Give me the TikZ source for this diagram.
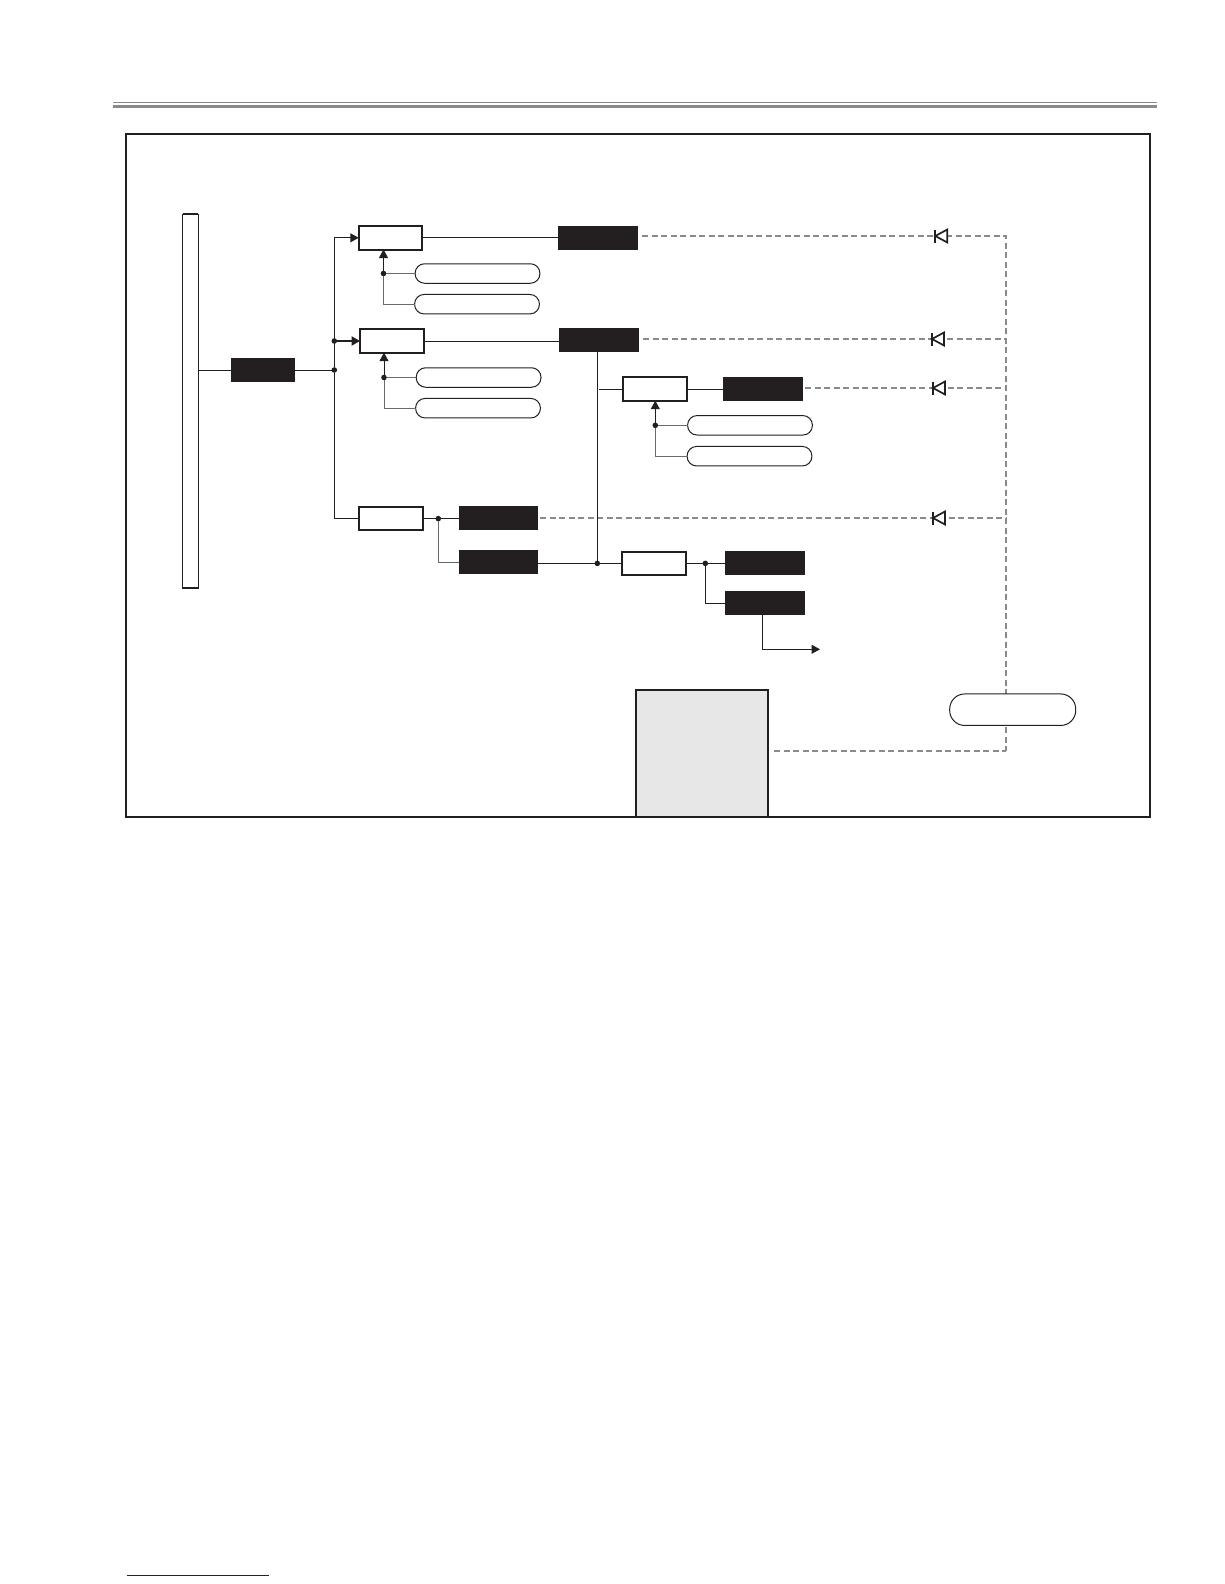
\documentclass[tikz,border=0pt]{standalone}
\usetikzlibrary{arrows.meta}
\definecolor{ink}{HTML}{231F20}
\definecolor{dashgray}{HTML}{8A8A8A}
\definecolor{stubgray}{HTML}{6A6A6A}
\definecolor{panel}{HTML}{E7E7E7}
\definecolor{navy}{HTML}{1414A0}
\tikzset{
  every node/.style={outer sep=0pt,inner sep=0pt},
  whitebox/.style={draw=ink,line width=2pt,fill=white,minimum width=63.5pt,minimum height=23.4pt},
  blackbox/.style={fill=ink,minimum width=80pt,minimum height=24pt},
  pill/.style={draw=ink,line width=1pt,fill=white,rounded corners=9.5pt,minimum width=124.8pt,minimum height=19.5pt},
  dot/.style={circle,fill=ink,minimum size=5.6pt},
  wire/.style={draw=ink,line width=1pt},
  stub/.style={draw=stubgray,line width=1pt},
  arrowwire/.style={wire,-{Triangle[length=8.5pt,width=9pt]}},
  dashline/.style={draw=dashgray,line width=1.8pt,dash pattern=on 6pt off 3.5pt},
  diodeline/.style={draw=ink,line width=1.7pt,fill=white,line join=miter}
}
\newcommand{\diodeat}[3]{%
  \coordinate (#1) at (#2,#3);
  \draw[diodeline] ([shift={(13,-6.5)}]#1) -- ([shift={(13,6.5)}]#1) -- ([shift={(1,0)}]#1) -- cycle;
  \draw[diodeline] ([shift={(1,-6.5)}]#1) -- ([shift={(1,6.5)}]#1);
}
\begin{document}
\begin{tikzpicture}[x=1pt,y=-1pt]
\useasboundingbox (0,0) rectangle (1224,1584);
% header rule and bottom line
\coordinate (ruleL) at (113,102.7); \coordinate (ruleR) at (1157,102.7);
\coordinate (ruleL2) at (113,106.2); \coordinate (ruleR2) at (1157,106.2);
\draw[dashgray,line width=1pt] (ruleL) -- (ruleR);
\draw[dashgray,line width=3pt] (ruleL2) -- (ruleR2);
\coordinate (footL) at (127,1575.3); \coordinate (footR) at (269,1575.3);
\draw[navy,line width=1.1pt] (footL) -- (footR);

% dashed bus
\coordinate (t1) at (1006,236);
\coordinate (t2) at (1006,339);
\coordinate (t3) at (1006,388);
\coordinate (t4) at (1006,518);
\coordinate (t5) at (1006,751);
\coordinate (s1) at (642,236);
\coordinate (s2) at (643,339);
\coordinate (s3) at (805,388);
\coordinate (s4) at (540,518);
\coordinate (s5) at (774,751);
\draw[dashline] (s1) -- (t1) -- (t5);
\draw[dashline] (s5) -- (t5);
\draw[dashline] (s2) -- (t2);
\draw[dashline] (s3) -- (t3);
\draw[dashline] (s4) -- (t4);

% main nodes
\node[draw=ink,line width=1.1pt,fill=white,minimum width=15.4pt,minimum height=374pt] (bar) at (190.5,401.3) {};
\coordinate (barTL) at (bar.north west); \coordinate (barTR) at (bar.north east);
\coordinate (barBL) at (bar.south west); \coordinate (barBR) at (bar.south east);
\draw[ink,line width=2pt] (barTL) -- (barTR);
\draw[ink,line width=2pt] (barBL) -- (barBR);
\node[blackbox,minimum width=64pt] (K0) at (263,370) {};
\node[whitebox] (A) at (390.5,237.8) {};
\node[whitebox] (B) at (391.8,341) {};
\node[whitebox] (C) at (655,389) {};
\node[whitebox] (D) at (391,518.6) {};
\node[whitebox] (E) at (654.2,563.4) {};
\node[blackbox] (K1) at (598,238) {};
\node[blackbox] (K2) at (599,340) {};
\node[blackbox] (K3) at (763,389) {};
\node[blackbox,minimum width=79pt] (K4) at (498.5,518) {};
\node[blackbox,minimum width=79pt] (K5) at (498.5,562) {};
\node[blackbox] (K6) at (765,563) {};
\node[blackbox] (K7) at (765,603) {};
\node[pill] (P1) at (477.5,273.5) {};
\node[pill] (P2) at (477,304.2) {};
\node[pill] (P3) at (478.6,377.5) {};
\node[pill] (P4) at (478,408.2) {};
\node[pill] (P5) at (750,425.3) {};
\node[pill] (P6) at (749.5,456.2) {};
\node[draw=ink,line width=1pt,fill=white,rounded corners=15pt,minimum width=126pt,minimum height=31.5pt] (P7) at (1012.7,709.7) {};
\node[draw=ink,line width=2pt,fill=panel,minimum width=131.5pt,minimum height=126.7pt] (G) at (702,753.3) {};

% junction dots
\node[dot] (J1) at (334.3,370) {};
\node[dot] (J2) at (334.3,341) {};
\node[dot] (dA) at (383.5,273.5) {};
\node[dot] (dB) at (384,377.5) {};
\node[dot] (dC) at (655.3,425.3) {};
\node[dot] (dD) at (438.3,518.6) {};
\node[dot] (dE) at (597.3,563.4) {};
\node[dot] (dF) at (705.3,563.4) {};
\coordinate (stubC) at (599,389);
\coordinate (outR) at (820,649.3);
\coordinate (outL) at (762.3,649.3);

% connectors
\draw[wire] (bar.east |- K0.west) -- (K0.west);
\draw[wire] (K0.east) -- (J1);
\draw[arrowwire] (J1) |- (A.west);
\draw[wire] (J1) |- (D.west);
\draw[draw=ink,line width=2pt,-{Triangle[length=8.5pt,width=9pt]}] (J2) -- (B.west);
\draw[wire] (A.east) -- (A.east -| K1.west);
\draw[wire] (B.east) -- (B.east -| K2.west);
\draw[wire] (C.east) -- (K3.west);
\draw[wire] (stubC) -- (C.west);
\draw[wire] (D.east) -- (D.east -| K4.west);
\draw[stub] (dD) |- (K5.west);
\draw[wire] (dE -| K5.east) -- (dE);
\draw[wire] (dE) -- (E.west);
\draw[wire] (dE |- K2.south) -- (dE);
\draw[wire] (E.east) -- (E.east -| K6.west);
\draw[wire] (dF) |- (K7.west);
\draw[wire] (outL |- K7.south) -- (outL);
\draw[arrowwire] (outL) -- (outR);

\draw[stub] (P1.west) -- (dA);
\draw[stub] (P2.west) -| (dA);
\draw[arrowwire] (dA) -- (dA |- A.south);
\draw[stub] (P3.west) -- (dB);
\draw[stub] (P4.west) -| (dB);
\draw[arrowwire] (dB) -- (dB |- B.south);
\draw[stub] (P5.west) -- (dC);
\draw[stub] (P6.west) -| (dC);
\draw[arrowwire] (dC) -- (dC |- C.south);

% diodes
\diodeat{D1}{934.3}{236}
\diodeat{D2}{931}{339}
\diodeat{D3}{932}{388}
\diodeat{D4}{932}{518}

% frame
\draw[ink,line width=2.2pt] (125.7,133.7) rectangle (1150,816.7);
\end{tikzpicture}
\end{document}
